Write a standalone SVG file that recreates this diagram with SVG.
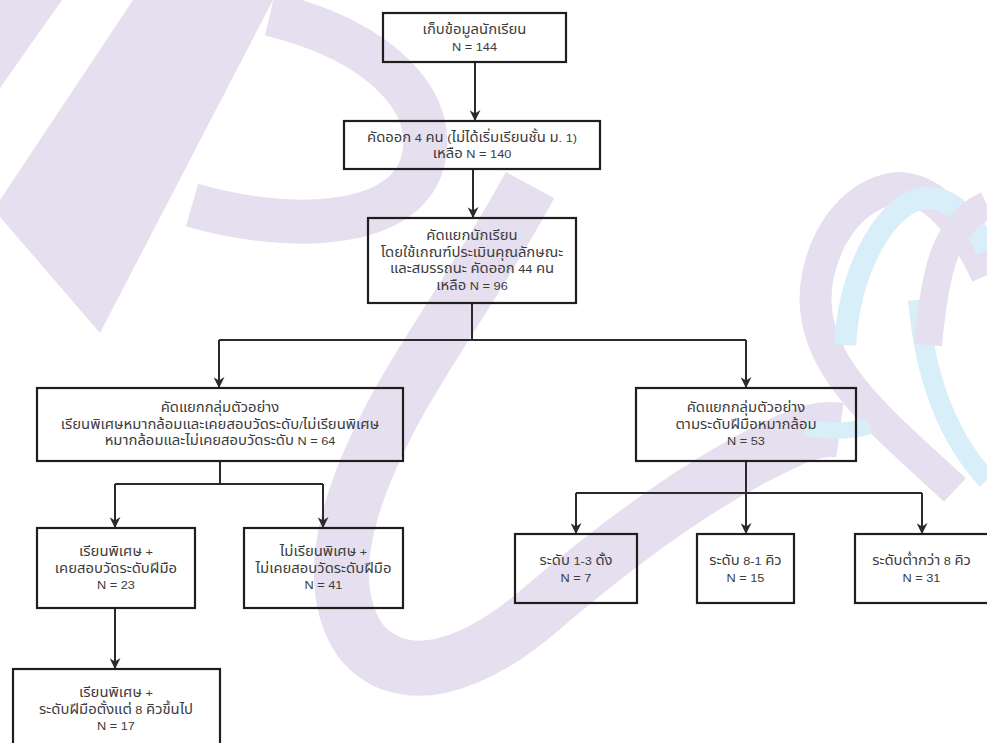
<svg xmlns="http://www.w3.org/2000/svg" width="987" height="743" viewBox="0 0 987 743">
<style>
.bg{fill:#ffffff}
.wl{fill:none;stroke:#e5dfef;stroke-linecap:butt}
.wlf{fill:#e5dfef}
.wb{fill:none;stroke:#d8eef8;stroke-linecap:butt}
.box{fill:none;stroke:#1e1e1e;stroke-width:2.2}
.lbl{font-family:"Liberation Sans","Noto Sans Thai","Noto Sans",Arial,sans-serif;font-size:13.5px;fill:#3c3c3c;text-anchor:middle}
.l{font-size:11.6px}
.con{fill:none;stroke:#2a2a2a;stroke-width:2}
</style>
<defs>
<marker id="arr" viewBox="0 0 10 10" refX="9" refY="5" markerWidth="11" markerHeight="11" markerUnits="userSpaceOnUse" orient="auto">
<path d="M0,0 L10,5 L0,10 L3,5 z" fill="#2a2a2a"/>
</marker>
</defs>
<rect class="bg" x="0" y="0" width="987" height="743"/>
<g id="watermark">
<polygon class="wlf" points="0,0 62,0 0,88"/>
<polygon class="wlf" points="133,0 273,0 100,333 0,217 0,200"/>
<path class="wl" stroke-width="44" d="M270,14 C380,40 445,105 420,170 C395,230 285,232 192,205"/>
<path class="wl" stroke-width="55" d="M530,185 C490,260 440,330 400,400 C350,490 320,580 360,640 C400,690 470,670 540,610 C610,550 700,480 790,440 C810,430 825,428 840,430"/>
<path class="wl" stroke-width="32" d="M955,490 C880,420 800,360 818,275 C830,220 865,190 900,188 C940,190 968,235 987,275"/>
<path class="wb" stroke-width="22" d="M845,345 C850,265 888,202 925,198 C955,196 975,225 987,250"/>
<path class="wb" stroke-width="20" d="M918,300 C925,380 950,440 987,480"/>
<path class="wb" stroke-width="16" d="M805,428 C830,432 850,432 870,426"/>
<path class="wl" stroke-width="28" d="M928,345 C935,270 945,225 987,205"/>
</g>
<g id="connectors">
<path class="con" d="M475,62 V120" marker-end="url(#arr)"/>
<path class="con" d="M473,169 V217" marker-end="url(#arr)"/>
<path class="con" d="M472,303 V340 M219,340 H746"/>
<path class="con" d="M219,340 V387" marker-end="url(#arr)"/>
<path class="con" d="M746,340 V387" marker-end="url(#arr)"/>
<path class="con" d="M220,461 V484 M115,484 H323"/>
<path class="con" d="M115,484 V527" marker-end="url(#arr)"/>
<path class="con" d="M323,484 V527" marker-end="url(#arr)"/>
<path class="con" d="M576,493 H922"/>
<path class="con" d="M746,461 V533" marker-end="url(#arr)"/>
<path class="con" d="M576,493 V533" marker-end="url(#arr)"/>
<path class="con" d="M922,493 V533" marker-end="url(#arr)"/>
<path class="con" d="M115,608 V668" marker-end="url(#arr)"/>
</g>
<g id="n1"><rect class="box" x="383" y="13" width="183" height="49"/>
<text class="lbl" transform="translate(474.5,34) scale(1.1,1)">เก็บข้อมูลนักเรียน</text><text class="lbl" transform="translate(474.5,50.5) scale(1.1,1)"><tspan class="l">N = 144</tspan></text></g>
<g id="n2"><rect class="box" x="344" y="121" width="256" height="48"/>
<text class="lbl" transform="translate(472,141.5) scale(1.1,1)">คัดออก<tspan class="l"> 4 </tspan>คน<tspan class="l"> (</tspan>ไม่ได้เริ่มเรียนชั้น<tspan class="l"> </tspan>ม<tspan class="l">. 1)</tspan></text><text class="lbl" transform="translate(472,158) scale(1.1,1)">เหลือ<tspan class="l"> N = 140</tspan></text></g>
<g id="n3"><rect class="box" x="368" y="218" width="208" height="85"/>
<text class="lbl" transform="translate(472,240) scale(1.1,1)">คัดแยกนักเรียน</text><text class="lbl" transform="translate(472,256.5) scale(1.1,1)">โดยใช้เกณฑ์ประเมินคุณลักษณะ</text><text class="lbl" transform="translate(472,273) scale(1.1,1)">และสมรรถนะ<tspan class="l"> </tspan>คัดออก<tspan class="l"> 44 </tspan>คน</text><text class="lbl" transform="translate(472,289.5) scale(1.1,1)">เหลือ<tspan class="l"> N = 96</tspan></text></g>
<g id="n4"><rect class="box" x="37" y="388" width="366" height="73"/>
<text class="lbl" transform="translate(220,412) scale(1.1,1)">คัดแยกกลุ่มตัวอย่าง</text><text class="lbl" transform="translate(220,428.5) scale(1.1,1)">เรียนพิเศษหมากล้อมและเคยสอบวัดระดับ<tspan class="l">/</tspan>ไม่เรียนพิเศษ</text><text class="lbl" transform="translate(220,445) scale(1.1,1)">หมากล้อมและไม่เคยสอบวัดระดับ<tspan class="l"> N = 64</tspan></text></g>
<g id="n5"><rect class="box" x="636" y="388" width="220" height="73"/>
<text class="lbl" transform="translate(746,412) scale(1.1,1)">คัดแยกกลุ่มตัวอย่าง</text><text class="lbl" transform="translate(746,428.5) scale(1.1,1)">ตามระดับฝีมือหมากล้อม</text><text class="lbl" transform="translate(746,445) scale(1.1,1)"><tspan class="l">N = 53</tspan></text></g>
<g id="n6"><rect class="box" x="37" y="528" width="158" height="80"/>
<text class="lbl" transform="translate(116,556) scale(1.1,1)">เรียนพิเศษ<tspan class="l"> +</tspan></text><text class="lbl" transform="translate(116,572.5) scale(1.1,1)">เคยสอบวัดระดับฝีมือ</text><text class="lbl" transform="translate(116,589) scale(1.1,1)"><tspan class="l">N = 23</tspan></text></g>
<g id="n7"><rect class="box" x="244" y="528" width="159" height="80"/>
<text class="lbl" transform="translate(323.5,556) scale(1.1,1)">ไม่เรียนพิเศษ<tspan class="l"> +</tspan></text><text class="lbl" transform="translate(323.5,572.5) scale(1.1,1)">ไม่เคยสอบวัดระดับฝีมือ</text><text class="lbl" transform="translate(323.5,589) scale(1.1,1)"><tspan class="l">N = 41</tspan></text></g>
<g id="n8"><rect class="box" x="515" y="534" width="122" height="69"/>
<text class="lbl" transform="translate(576,565) scale(1.1,1)">ระดับ<tspan class="l"> 1-3 </tspan>ดั้ง</text><text class="lbl" transform="translate(576,581.5) scale(1.1,1)"><tspan class="l">N = 7</tspan></text></g>
<g id="n9"><rect class="box" x="697" y="534" width="97" height="69"/>
<text class="lbl" transform="translate(745.5,565) scale(1.1,1)">ระดับ<tspan class="l"> 8-1 </tspan>คิว</text><text class="lbl" transform="translate(745.5,581.5) scale(1.1,1)"><tspan class="l">N = 15</tspan></text></g>
<g id="n10"><rect class="box" x="855" y="534" width="134" height="69"/>
<text class="lbl" transform="translate(921.5,565) scale(1.1,1)">ระดับต่ำกว่า<tspan class="l"> 8 </tspan>คิว</text><text class="lbl" transform="translate(921.5,581.5) scale(1.1,1)"><tspan class="l">N = 31</tspan></text></g>
<g id="n11"><rect class="box" x="13" y="669" width="207" height="80"/>
<text class="lbl" transform="translate(116,697) scale(1.1,1)">เรียนพิเศษ<tspan class="l"> +</tspan></text><text class="lbl" transform="translate(116,713.5) scale(1.1,1)">ระดับฝีมือตั้งแต่<tspan class="l"> 8 </tspan>คิวขึ้นไป</text><text class="lbl" transform="translate(116,730) scale(1.1,1)"><tspan class="l">N = 17</tspan></text></g>
</svg>
